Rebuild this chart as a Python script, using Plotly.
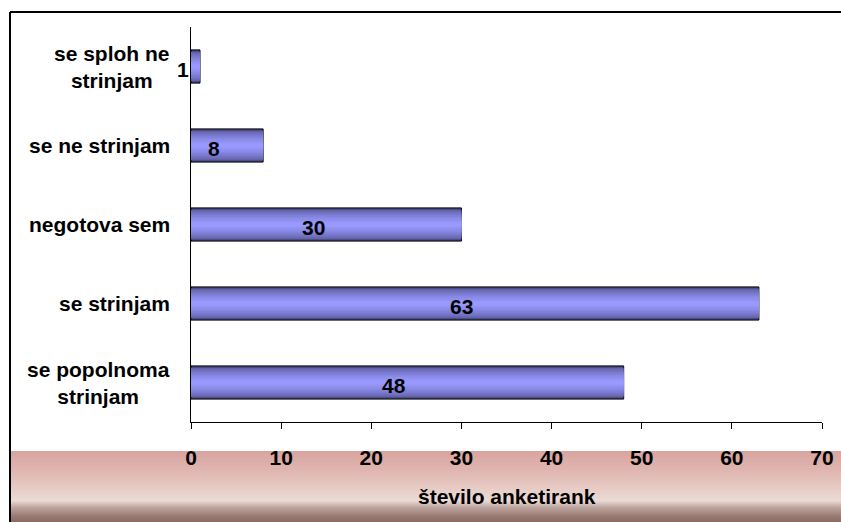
import plotly.graph_objects as go

# Survey answers (bottom to top) and respondent counts
categories = ["se popolnoma<br>strinjam", "se strinjam", "negotova sem",
              "se ne strinjam", "se sploh ne<br>strinjam"]
counts = [48, 63, 30, 8, 1]
x_ticks = [0, 10, 20, 30, 40, 50, 60, 70]
x_title = "število anketirank"

W, H = 841, 522
ML, MR, MT, MB = 191, 19, 27, 100
PW, PH = W - ML - MR, H - MT - MB
FONT = "Liberation Sans, Arial, sans-serif"
FS = 21


def px(xp):
    return (xp - ML) / PW


def py(yp):
    return (H - MB - yp) / PH


def lerp(c1, c2, t):
    return tuple(round(a + (b - a) * t) for a, b in zip(c1, c2))


def rgb(c):
    return "rgb(%d,%d,%d)" % c


fig = go.Figure()

# Shaded bars: stacked overlays from dark edge to light centre
bar_w = 0.42
layers = 9
edge, mid = (70, 70, 125), (153, 153, 255)
for k in range(layers):
    t = k / (layers - 1)
    fig.add_trace(go.Bar(
        y=categories, x=counts, orientation="h",
        width=bar_w * (1 - 0.88 * t),
        marker=dict(color=rgb(lerp(edge, mid, t ** 0.5)),
                    line=dict(color="black" if k == 0 else "rgba(0,0,0,0)",
                              width=1 if k == 0 else 0)),
        hoverinfo="skip", showlegend=False,
    ))

# Value labels
for cat, v in zip(categories, counts):
    fig.add_annotation(x=v / 2, y=cat, text="<b>%d</b>" % v, showarrow=False,
                       xshift=-13, yshift=-3,
                       font=dict(family=FONT, size=FS, color="black"))

# Category labels, centred multi-line text right of the axis
for cat in categories:
    fig.add_annotation(x=px(172), xref="paper", y=cat, yref="y",
                       text="<b>%s</b>" % cat, showarrow=False,
                       xanchor="right", yanchor="middle", align="center",
                       font=dict(family=FONT, size=FS, color="black"))

# Pink gradient band along the bottom
stops = [(451, (217, 164, 160)), (475, (226, 187, 182)), (500, (236, 219, 213)),
         (507, (190, 165, 159)), (515, (155, 125, 118)), (522, (135, 105, 99))]
shapes = []
for i in range(len(stops) - 1):
    (y0, c0), (y1, c1) = stops[i], stops[i + 1]
    n = max(1, (y1 - y0))
    for j in range(n):
        ya, yb = y0 + (y1 - y0) * j / n, y0 + (y1 - y0) * (j + 1) / n
        shapes.append(dict(type="rect", xref="paper", yref="paper",
                           x0=px(10), x1=px(845), y0=py(yb + 0.3), y1=py(ya),
                           fillcolor=rgb(lerp(c0, c1, j / n)),
                           line=dict(width=0), layer="below"))

# Outer frame (top and left edges)
shapes.append(dict(type="line", xref="paper", yref="paper",
                   x0=px(10), x1=px(845), y0=py(12), y1=py(12),
                   line=dict(color="black", width=2)))
shapes.append(dict(type="line", xref="paper", yref="paper",
                   x0=px(10), x1=px(10), y0=py(12), y1=py(524),
                   line=dict(color="black", width=2)))

fig.add_annotation(x=0.5, xref="paper", y=py(496), yref="paper",
                   xanchor="center", yanchor="middle",
                   text="<b>%s</b>" % x_title, showarrow=False,
                   font=dict(family=FONT, size=FS, color="black"))

fig.update_layout(
    width=W, height=H,
    margin=dict(l=ML, r=MR, t=MT, b=MB, autoexpand=False),
    paper_bgcolor="white", plot_bgcolor="white",
    barmode="overlay", bargap=0.58,
    shapes=shapes,
    font=dict(family=FONT, size=FS, color="black"),
    xaxis=dict(range=[0, 70], tickvals=x_ticks,
               ticktext=["<b>%d</b>" % t for t in x_ticks],
               showgrid=False, zeroline=False,
               showline=True, linecolor="black", linewidth=1,
               ticks="outside", ticklen=6, tickcolor="black",
               ticklabelstandoff=11,
               tickfont=dict(family=FONT, size=FS, color="black")),
    yaxis=dict(categoryorder="array", categoryarray=categories,
               showticklabels=False, showgrid=False, zeroline=False,
               showline=True, linecolor="black", linewidth=1, ticks=""),
)

fig.write_html("out.html")
